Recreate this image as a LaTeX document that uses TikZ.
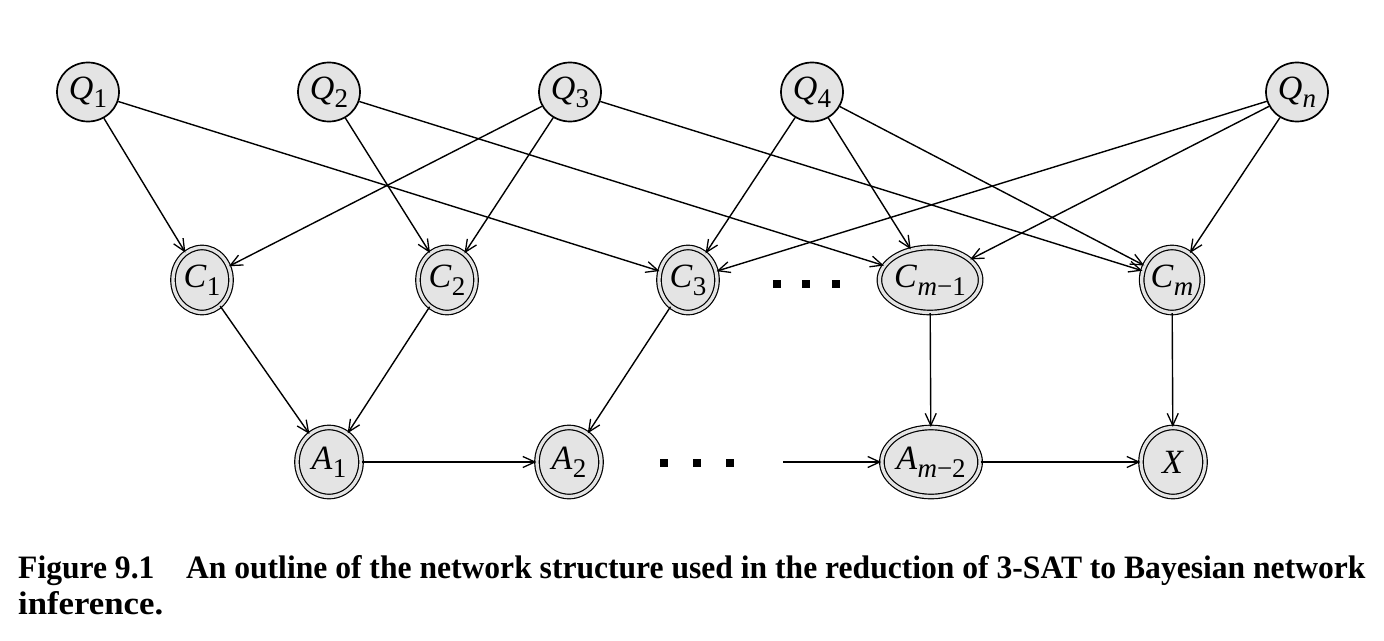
\documentclass[tikz,border=0pt]{standalone}
\usepackage{fontspec}
\setmainfont{Liberation Serif}
\usetikzlibrary{arrows.meta,shapes.geometric}
\definecolor{nodegray}{RGB}{228,228,228}
\newcommand{\lbl}[2]{\textit{#1}\kern0.01em\raisebox{-0.24em}{\fontsize{27}{27}\selectfont #2}}
\tikzset{
  qnode/.style={ellipse, draw, line width=1.7pt, fill=nodegray, minimum width=62pt, minimum height=59pt, inner sep=0pt, font=\fontsize{34}{34}\selectfont},
  dnode/.style={ellipse, draw, line width=1.2pt, double=nodegray, double distance=3.3pt, fill=nodegray, minimum width=58pt, minimum height=65pt, inner sep=0pt, font=\fontsize{34}{34}\selectfont},
  widenode/.style={dnode, minimum width=88pt},
  anode/.style={dnode, minimum width=64pt, minimum height=69pt},
  edge/.style={line width=1.4pt, -{Straight Barb[length=12pt,width=11pt,line width=1.3pt]}},
  dotsq/.style={rectangle, fill=black, minimum size=8.5pt, inner sep=0pt},
}
\begin{document}
\begin{tikzpicture}[x=1pt,y=-1pt]
\useasboundingbox[fill=white] (0,0) rectangle (1384,640);
% Q row
\node[qnode] (q1) at (88,92)   {\lbl{Q}{1}};
\node[qnode] (q2) at (329,92)  {\lbl{Q}{2}};
\node[qnode] (q3) at (570,92)  {\lbl{Q}{3}};
\node[qnode] (q4) at (812,92)  {\lbl{Q}{4}};
\node[qnode] (qn) at (1297,92) {\lbl{Q}{\textit{n}}};
% C row
\node[dnode] (c1) at (202,280)  {\lbl{C}{1}};
\node[dnode] (c2) at (447,280)  {\lbl{C}{2}};
\node[dnode] (c3) at (688,280)  {\lbl{C}{3}};
\node[widenode] (cm1) at (930,280) {\lbl{C}{\textit{m}−1}};
\node[dnode] (cm) at (1172,280) {\lbl{C}{\textit{m}}};
% A row
\node[anode] (a1) at (329,462) {\lbl{A}{1}};
\node[anode] (a2) at (569,462) {\lbl{A}{2}};
\node[anode, minimum width=94pt] (am2) at (931,462) {\lbl{A}{\textit{m}−2}};
\node[anode] (x) at (1173,462) {\textit{X}};
% dots
\node[dotsq] (d1) at (777,284) {};
\node[dotsq] (d2) at (806,284) {};
\node[dotsq] (d3) at (836,284) {};
\node[dotsq] (e1) at (664,463) {};
\node[dotsq] (e2) at (697,463) {};
\node[dotsq] (e3) at (730,463) {};
\coordinate (free) at (783,462);
% edges Q -> C
\draw[edge] (q1) -- (c1);
\draw[edge] (q1) -- (c3);
\draw[edge] (q2) -- (c2);
\draw[edge] (q2) -- (cm1);
\draw[edge] (q3) -- (c1);
\draw[edge] (q3) -- (c2);
\draw[edge] (q3) -- (cm);
\draw[edge] (q4) -- (c3);
\draw[edge] (q4) -- (cm1);
\draw[edge] (q4) -- (cm);
\draw[edge] (qn) -- (c3);
\draw[edge] (qn) -- (cm1);
\draw[edge] (qn) -- (cm);
% C -> A
\draw[edge] (c1) -- (a1);
\draw[edge] (c2) -- (a1);
\draw[edge] (c3) -- (a2);
\draw[edge] (cm1) -- (am2);
\draw[edge] (cm) -- (x);
% A chain
\draw[edge] (a1) -- (a2);
\draw[edge] (free) -- (am2);
\draw[edge] (am2) -- (x);
% caption
\node[anchor=base west, inner sep=0pt] (cap1) at (18,578) {\resizebox{1347pt}{23pt}{\bfseries Figure 9.1\quad An outline of the network structure used in the reduction of 3-SAT to Bayesian network}};
\node[anchor=base west, inner sep=0pt] (cap2) at (18,614) {\resizebox{145pt}{23pt}{\bfseries inference.}};
\end{tikzpicture}
\end{document}
